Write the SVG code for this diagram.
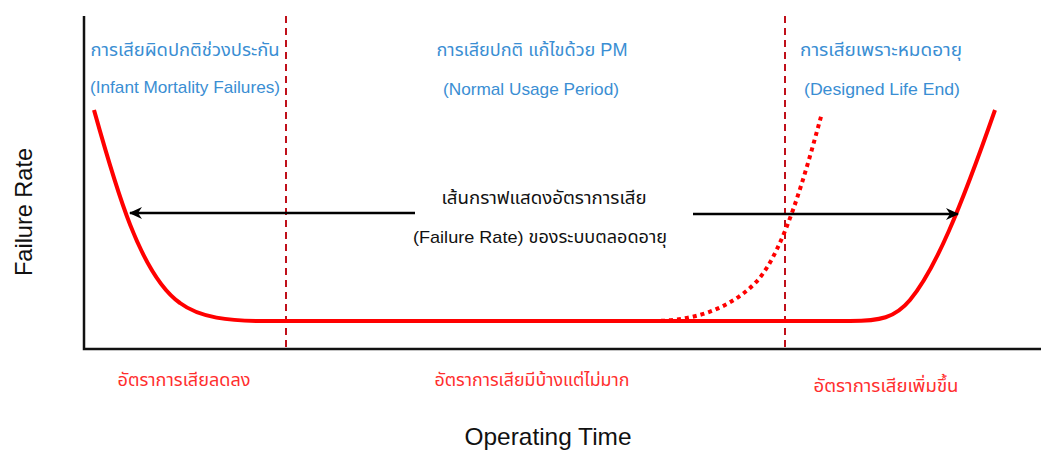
<svg xmlns="http://www.w3.org/2000/svg" width="1041" height="452" viewBox="0 0 1041 452">
  <style>
    text { font-family: "Liberation Sans", "Noto Sans Thai", "Noto Sans", "DejaVu Sans", sans-serif; }
    .phase { fill: #3a8ed3; font-size: 17px; text-anchor: middle; }
    .phase-th { fill: #3a8ed3; font-size: 18px; text-anchor: middle; }
    .rate { fill: #ff2e2e; font-size: 18px; text-anchor: middle; }
    .note { fill: #111; font-size: 17px; text-anchor: middle; }
    .axis-title { fill: #111; font-size: 24px; text-anchor: middle; }
    .curve { fill: none; stroke: #ff0000; stroke-width: 4; stroke-linecap: butt; }
    .divider { stroke: #c0101a; stroke-width: 2; stroke-dasharray: 7 5; }
    .axis { stroke: #111; stroke-width: 2.5; fill: none; }
    .pointer { stroke: #000; stroke-width: 2.5; fill: none; }
  </style>
  <defs>
    <marker id="head" markerWidth="14" markerHeight="14" refX="12" refY="7" orient="auto" markerUnits="userSpaceOnUse">
      <path d="M0,1 L13,7 L0,13 L4,7 Z" fill="#000"/>
    </marker>
  </defs>

  <rect width="1041" height="452" fill="#fff"/>

  <!-- axes -->
  <g id="axes">
    <path class="axis" d="M84,16 L84,349 L1041,349"/>
    <text class="axis-title" transform="translate(32,212) rotate(-90)" textLength="128" lengthAdjust="spacingAndGlyphs">Failure Rate</text>
    <text class="axis-title" x="548" y="445" textLength="167" lengthAdjust="spacingAndGlyphs">Operating Time</text>
  </g>

  <!-- phase dividers -->
  <g id="dividers">
    <line class="divider" x1="286" y1="16" x2="286" y2="348"/>
    <line class="divider" x1="785" y1="16" x2="785" y2="348"/>
  </g>

  <!-- bathtub curve -->
  <g id="curve">
    <path class="curve" d="M94,110 C115,185 140,275 180,303 C200,318 230,321 262,321 L850,321 C880,321 895,318 910,300 C935,270 960,210 995,110"/>
    <path class="curve" stroke-dasharray="4 4" d="M653,321 C700,321 735,305 758,280 C785,248 805,175 822,113"/>
  </g>

  <!-- connectors -->
  <g id="connectors">
    <line class="pointer" x1="415" y1="213" x2="130" y2="213" marker-end="url(#head)"/>
    <line class="pointer" x1="693" y1="214" x2="958" y2="214" marker-end="url(#head)"/>
  </g>

  <!-- phase labels -->
  <g id="phase-infant">
    <text class="phase-th" x="185" y="56" textLength="189" lengthAdjust="spacingAndGlyphs">การเสียผิดปกติช่วงประกัน</text>
    <text class="phase" x="185" y="93" textLength="190" lengthAdjust="spacingAndGlyphs">(Infant Mortality Failures)</text>
  </g>
  <g id="phase-normal">
    <text class="phase-th" x="532" y="56" textLength="191" lengthAdjust="spacingAndGlyphs">การเสียปกติ แก้ไขด้วย PM</text>
    <text class="phase" x="531" y="95" textLength="176" lengthAdjust="spacingAndGlyphs">(Normal Usage Period)</text>
  </g>
  <g id="phase-wearout">
    <text class="phase-th" x="881" y="56" textLength="162" lengthAdjust="spacingAndGlyphs">การเสียเพราะหมดอายุ</text>
    <text class="phase" x="882" y="95" textLength="156" lengthAdjust="spacingAndGlyphs">(Designed Life End)</text>
  </g>

  <!-- curve description -->
  <g id="description">
    <text class="note" x="544" y="204" textLength="205" lengthAdjust="spacingAndGlyphs">เส้นกราฟแสดงอัตราการเสีย</text>
    <text class="note" x="540" y="243" textLength="254" lengthAdjust="spacingAndGlyphs">(Failure Rate) ของระบบตลอดอายุ</text>
  </g>

  <!-- rate trend labels -->
  <g id="trend-decreasing">
    <text class="rate" x="184" y="386" textLength="133" lengthAdjust="spacingAndGlyphs">อัตราการเสียลดลง</text>
  </g>
  <g id="trend-constant">
    <text class="rate" x="532" y="386" textLength="195" lengthAdjust="spacingAndGlyphs">อัตราการเสียมีบ้างแต่ไม่มาก</text>
  </g>
  <g id="trend-increasing">
    <text class="rate" x="886" y="392" textLength="145" lengthAdjust="spacingAndGlyphs">อัตราการเสียเพิ่มขึ้น</text>
  </g>
</svg>
